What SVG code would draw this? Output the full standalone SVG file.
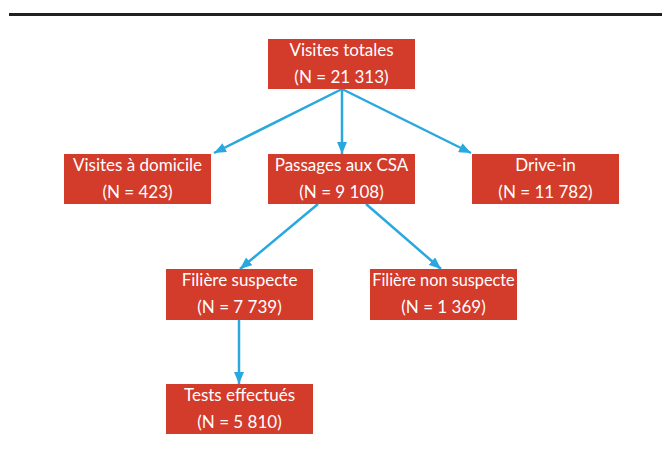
<svg xmlns="http://www.w3.org/2000/svg" width="662" height="453" viewBox="0 0 662 453">
<defs>
<marker id="ah" viewBox="0 0 12 10" refX="12" refY="5" markerWidth="12" markerHeight="10" markerUnits="userSpaceOnUse" orient="auto">
<path d="M0,0 L12,5 L0,10 Z" fill="#29a8e0"/>
</marker>
<style>
.box{fill:#d33b2b}
.t{font-family:Lato,"Open Sans",sans-serif;font-size:17px;fill:#ffffff;text-anchor:middle}
.c{stroke:#29a8e0;stroke-width:2.5;fill:none;marker-end:url(#ah)}
</style>
</defs>
<rect width="662" height="453" fill="#ffffff"/>
<rect x="9" y="13" width="653" height="3" fill="#231f20"/>
<g id="connectors">
<line class="c" x1="342" y1="89" x2="214" y2="153"/>
<line class="c" x1="342" y1="89" x2="342" y2="154"/>
<line class="c" x1="342" y1="89" x2="471" y2="153"/>
<line class="c" x1="318" y1="204" x2="240" y2="269"/>
<line class="c" x1="366" y1="204" x2="441" y2="269"/>
<line class="c" x1="239" y1="320" x2="239" y2="384"/>
</g>
<g id="n1"><rect class="box" x="268" y="39" width="147" height="50"/><text class="t" x="341.5" y="56">Visites totales</text><text class="t" x="341.5" y="83">(N = 21 313)</text></g>
<g id="n2"><rect class="box" x="64" y="154" width="147" height="50"/><text class="t" x="137.5" y="171">Visites à domicile</text><text class="t" x="137.5" y="198">(N = 423)</text></g>
<g id="n3"><rect class="box" x="268" y="154" width="147" height="50"/><text class="t" x="341.5" y="171">Passages aux CSA</text><text class="t" x="341.5" y="198">(N = 9 108)</text></g>
<g id="n4"><rect class="box" x="472" y="154" width="147" height="50"/><text class="t" x="545.5" y="171">Drive-in</text><text class="t" x="545.5" y="198">(N = 11 782)</text></g>
<g id="n5"><rect class="box" x="166" y="269" width="147" height="51"/><text class="t" x="239.5" y="286">Filière suspecte</text><text class="t" x="239.5" y="313">(N = 7 739)</text></g>
<g id="n6"><rect class="box" x="370" y="269" width="147" height="51"/><text class="t" x="443.5" y="286" style="font-size:16.3px">Filière non suspecte</text><text class="t" x="443.5" y="313">(N = 1 369)</text></g>
<g id="n7"><rect class="box" x="166" y="384" width="147" height="50"/><text class="t" x="239.5" y="401">Tests effectués</text><text class="t" x="239.5" y="428">(N = 5 810)</text></g>
</svg>
